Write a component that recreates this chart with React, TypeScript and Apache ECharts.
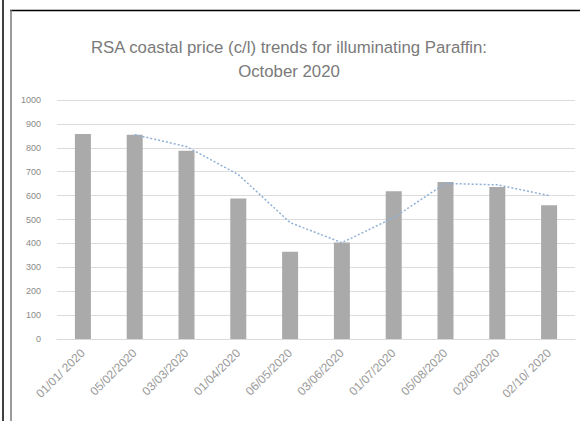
import React, { useEffect, useRef } from "react";
import * as echarts from "echarts";

const categories = [
  "01/01/ 2020",
  "05/02/2020",
  "03/03/2020",
  "01/04/2020",
  "06/05/2020",
  "03/06/2020",
  "01/07/2020",
  "05/08/2020",
  "02/09/2020",
  "02/10/ 2020",
];
const prices = [858, 855, 788, 588, 365, 404, 618, 657, 636, 560];
const trend = [null, 855, 805, 688, 487, 403, 508, 651, 645, 600];
const yTicks = [0, 1000, 100];

export default function App() {
  const ref = useRef<HTMLDivElement>(null);
  useEffect(() => {
    if (!ref.current) return;
    const chart = echarts.init(ref.current, null, { renderer: "svg" });
    chart.setOption({
      animation: false,
      backgroundColor: "#ffffff",
      title: {
        text: "RSA coastal price (c/l) trends for illuminating Paraffin:\nOctober 2020",
        left: 284,
        textAlign: "center",
        top: 30,
        textStyle: {
          fontFamily: "Liberation Sans",
          fontSize: 16.8,
          fontWeight: "normal",
          color: "#7a7a7a",
          lineHeight: 24,
        },
      },
      grid: { left: 57, right: 5, top: 100, bottom: 82 },
      xAxis: {
        type: "category",
        data: categories,
        axisTick: { show: false },
        axisLine: { lineStyle: { color: "#d9d9d9" } },
        axisLabel: {
          rotate: 45,
          fontSize: 12,
          color: "#9a9a9a",
          fontFamily: "Liberation Sans",
          margin: 12,
          interval: 0,
        },
      },
      yAxis: {
        type: "value",
        min: yTicks[0],
        max: yTicks[1],
        interval: yTicks[2],
        axisLine: { show: false },
        axisTick: { show: false },
        splitLine: { lineStyle: { color: "#dcdcdc", width: 1 } },
        axisLabel: {
          fontSize: 9,
          color: "#8a8a8a",
          fontFamily: "Liberation Sans",
          margin: 16,
          formatter: (v: number) => String(v),
        },
      },
      series: [
        {
          type: "bar",
          data: prices,
          barWidth: 16,
          itemStyle: { color: "#aaaaaa" },
        },
        {
          type: "line",
          data: trend,
          symbol: "none",
          connectNulls: false,
          lineStyle: { color: "#8fb0d6", width: 1.5, type: [2, 2] },
        },
      ],
      graphic: [
        { type: "line", shape: { x1: 3, y1: 0, x2: 3, y2: 421 }, style: { stroke: "#000", lineWidth: 1.5 } },
        { type: "line", shape: { x1: 10, y1: 10.5, x2: 580, y2: 10.5 }, style: { stroke: "#000", lineWidth: 1.5 } },
        { type: "line", shape: { x1: 11, y1: 10, x2: 11, y2: 421 }, style: { stroke: "#7a7a7a", lineWidth: 1.5 } },
        { type: "rect", z: 100, shape: { x: 576, y: 12, width: 4, height: 409 }, style: { fill: "#ffffff" } },
      ],
    });
    return () => chart.dispose();
  }, []);
  return (
    <div style={{ position: "fixed", left: 0, top: 0, width: 580, height: 421, background: "#fff" }}>
      <div ref={ref} style={{ width: 580, height: 421 }} />
    </div>
  );
}
